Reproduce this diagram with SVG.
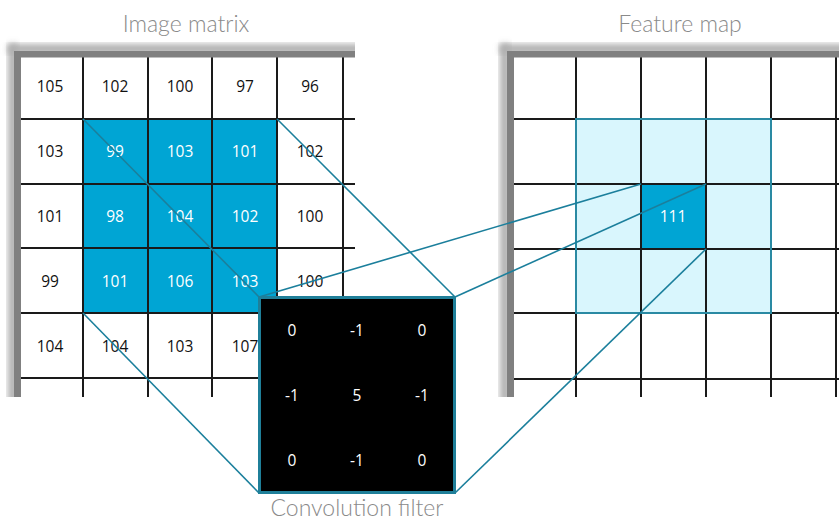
<svg xmlns="http://www.w3.org/2000/svg" width="839" height="522" viewBox="0 0 839 522">
<defs>
<filter id="sh" x="-20%" y="-20%" width="140%" height="140%"><feGaussianBlur stdDeviation="3"/></filter>
<clipPath id="clipL"><rect x="0" y="0" width="355" height="397"/></clipPath>
<clipPath id="clipR"><rect x="490" y="0" width="349" height="397"/></clipPath>
</defs>
<style>
.title{font-family:Lato,"Liberation Sans",sans-serif;font-weight:300;font-size:23px;fill:#8a8a8a;text-anchor:middle}
.num{font-family:"Open Sans","Liberation Sans",sans-serif;font-size:15.5px;fill:#111;text-anchor:middle}
.wn{font-family:"Open Sans","Liberation Sans",sans-serif;font-size:15.5px;fill:#fff;text-anchor:middle}
.gl{stroke:#1a1a1a;stroke-width:2;fill:none}
.bar{fill:#808080}
.bsh{fill:#b0b0b0;filter:url(#sh)}
.con{stroke:#1b7f9c;stroke-width:1.6;fill:none}
</style>
<rect width="839" height="522" fill="#fff"/>

<text class="title" x="186" y="32">Image matrix</text>
<text class="title" x="680" y="32">Feature map</text>
<text class="title" x="357" y="516">Convolution filter</text>

<g id="image-matrix" clip-path="url(#clipL)">
<rect x="8" y="44" width="360" height="10" class="bsh"/>
<rect x="8" y="44" width="10" height="360" class="bsh"/>
<rect x="18" y="54" width="337" height="343" fill="#fff"/>
<rect x="83" y="119" width="194" height="194" fill="#00a5d4"/>
<path class="gl" d="M83 54V397M148 54V397M212 54V397M277 54V397M343 54V397M18 119H355M18 184H355M18 248H355M18 313H355M18 378H355"/>
<rect x="14" y="51" width="341" height="6.5" class="bar"/>
<rect x="14" y="51" width="7" height="346" class="bar"/>
<g>
<text class="num" x="50" y="92">105</text><text class="num" x="115" y="92">102</text><text class="num" x="180" y="92">100</text><text class="num" x="245" y="92">97</text><text class="num" x="310" y="92">96</text>
<text class="num" x="50" y="157">103</text><text class="wn" x="115" y="157">99</text><text class="wn" x="180" y="157">103</text><text class="wn" x="245" y="157">101</text><text class="num" x="310" y="157">102</text>
<text class="num" x="50" y="222">101</text><text class="wn" x="115" y="222">98</text><text class="wn" x="180" y="222">104</text><text class="wn" x="245" y="222">102</text><text class="num" x="310" y="222">100</text>
<text class="num" x="50" y="287">99</text><text class="wn" x="115" y="287">101</text><text class="wn" x="180" y="287">106</text><text class="wn" x="245" y="287">103</text><text class="num" x="310" y="287">100</text>
<text class="num" x="50" y="352">104</text><text class="num" x="115" y="352">104</text><text class="num" x="180" y="352">103</text><text class="num" x="245" y="352">107</text>
</g>
</g>

<g id="feature-map" clip-path="url(#clipR)">
<rect x="500" y="44" width="360" height="10" class="bsh"/>
<rect x="500" y="44" width="10" height="360" class="bsh"/>
<rect x="511" y="54" width="328" height="343" fill="#fff"/>
<rect x="576" y="119" width="195" height="194" fill="#d9f6fd"/>
<rect x="641" y="184" width="65" height="65" fill="#00a5d4"/>
<path class="gl" d="M576 54V397M641 54V397M706 54V397M771 54V397M836 54V397M511 119H839M511 184H839M511 249H839M511 313H839M511 379H839"/>
<rect x="576" y="119" width="195" height="194" fill="none" stroke="#2a8aa3" stroke-width="2"/>
<rect x="507" y="51" width="332" height="6.5" class="bar"/>
<rect x="507" y="51" width="7" height="346" class="bar"/>
<text class="wn" x="673" y="222">111</text>
</g>

<g id="connectors">
<line class="con" x1="83" y1="119" x2="259" y2="297"/>
<line class="con" x1="277" y1="119" x2="455" y2="297"/>
<line class="con" x1="83" y1="313" x2="259" y2="493"/>
<line class="con" x1="259" y1="297" x2="641" y2="184"/>
<line class="con" x1="455" y1="297" x2="706" y2="184"/>
<line class="con" x1="455" y1="493" x2="706" y2="249"/>
</g>

<g id="convolution-filter">
<rect x="259.5" y="297.5" width="195" height="195" fill="#000" stroke="#1f7f99" stroke-width="3"/>
<text class="wn" x="292" y="336">0</text><text class="wn" x="357" y="336">-1</text><text class="wn" x="422" y="336">0</text>
<text class="wn" x="292" y="401">-1</text><text class="wn" x="357" y="401">5</text><text class="wn" x="422" y="401">-1</text>
<text class="wn" x="292" y="466">0</text><text class="wn" x="357" y="466">-1</text><text class="wn" x="422" y="466">0</text>
</g>
</svg>
